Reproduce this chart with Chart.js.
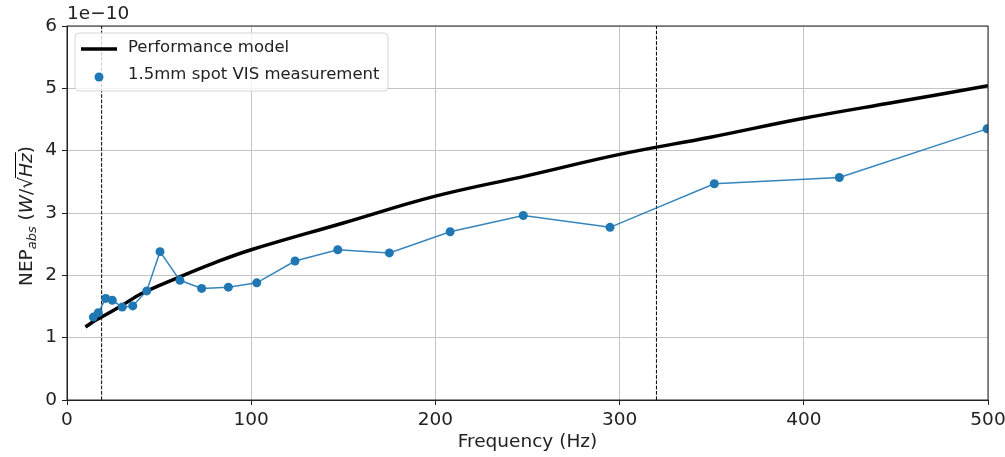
<!DOCTYPE html>
<html>
<head>
<meta charset="utf-8">
<script src="https://cdn.jsdelivr.net/npm/chart.js@4"></script>
<style>
  html, body { margin: 0; padding: 0; background: #fff; }
  #wrap { width: 1005px; height: 457px; }
</style>
</head>
<body>
<div id="wrap"><canvas id="nepChart" width="1005" height="457"></canvas></div>
<script>
// measurement (Hz, NEP in units of 1e-10 W/sqrt(Hz))
var measFreq = [14.3, 17.0, 21.0, 24.6, 30.0, 35.7, 43.3, 50.5, 61.3, 73.1, 87.6, 103, 123.8, 147, 175, 208, 247.7, 294.8, 351.4, 419.3, 499.5];
var measNep = [1.33, 1.40, 1.63, 1.60, 1.49, 1.51, 1.75, 2.38, 1.92, 1.79, 1.81, 1.88, 2.23, 2.41, 2.36, 2.70, 2.96, 2.77, 3.47, 3.57, 4.35];

// performance model curve
var modelFreq = [10, 15, 20, 30, 40, 60, 80, 100, 150, 200, 250, 300, 350, 400, 450, 500];
var modelNep = [1.17, 1.27, 1.35, 1.52, 1.70, 1.96, 2.20, 2.41, 2.84, 3.27, 3.60, 3.94, 4.22, 4.52, 4.78, 5.04];

// band limits (dashed verticals)
var bandFreq = [18.8, 320];

var FONT = "'DejaVu Sans', sans-serif";
var AX = 18.5;

function toPoints(xs, ys) {
  var pts = [];
  for (var i = 0; i < xs.length; i++) pts.push({ x: xs[i], y: ys[i] });
  return pts;
}

var datasets = [
  {
    label: "1.5mm spot VIS measurement",
    data: toPoints(measFreq, measNep),
    showLine: true,
    borderColor: "rgba(31, 119, 180, 0.9)",
    borderWidth: 1.5,
    pointRadius: 4.5,
    pointBorderWidth: 0,
    pointBackgroundColor: "#1f77b4",
    order: 0,
  },
  {
    label: "Performance model",
    data: toPoints(modelFreq, modelNep),
    showLine: true,
    borderColor: "#000",
    borderWidth: 3.5,
    pointRadius: 0,
    tension: 0.4,
    order: 1,
  },
];
for (var b = 0; b < bandFreq.length; b++) {
  datasets.push({
    label: "band" + b,
    data: [{ x: bandFreq[b], y: 0 }, { x: bandFreq[b], y: 6 }],
    showLine: true,
    borderColor: "#000",
    borderWidth: 1,
    borderDash: [3.7, 1.6],
    pointRadius: 0,
    order: 2,
  });
}

var extras = {
  id: "extras",
  afterDraw: function (chart) {
    var c = chart.ctx;
    var a = chart.chartArea;
    c.save();
    // spines
    c.strokeStyle = "#222";
    c.lineWidth = 1;
    c.strokeRect(a.left, a.top, a.right - a.left, a.bottom - a.top);

    // offset label
    c.fillStyle = "#222";
    c.font = AX + "px " + FONT;
    c.textBaseline = "middle";
    c.textAlign = "left";
    c.fillText("1e\u221210", a.left, 14);

    // legend box
    var lx = 75, ly = 33, lw = 313, lh = 58, r = 4;
    c.beginPath();
    c.moveTo(lx + r, ly);
    c.arcTo(lx + lw, ly, lx + lw, ly + lh, r);
    c.arcTo(lx + lw, ly + lh, lx, ly + lh, r);
    c.arcTo(lx, ly + lh, lx, ly, r);
    c.arcTo(lx, ly, lx + lw, ly, r);
    c.closePath();
    c.fillStyle = "rgba(255,255,255,0.8)";
    c.fill();
    c.strokeStyle = "#d6d6d6";
    c.stroke();

    c.strokeStyle = "#000";
    c.lineWidth = 3.5;
    c.beginPath();
    c.moveTo(81, 49);
    c.lineTo(117, 49);
    c.stroke();
    c.fillStyle = "#1f77b4";
    c.beginPath();
    c.arc(99, 77, 4.5, 0, Math.PI * 2);
    c.fill();

    c.fillStyle = "#222";
    c.font = "16.5px " + FONT;
    c.textBaseline = "middle";
    c.fillText("Performance model", 128, 48);
    c.fillText("1.5mm spot VIS measurement", 128, 75);

    // y axis title with subscript and radical
    c.translate(25, 216);
    c.rotate(-Math.PI / 2);
    c.textBaseline = "alphabetic";
    var big = AX + "px " + FONT, small = "italic 13px " + FONT, ital = "italic " + AX + "px " + FONT;
    var parts = [
      ["NEP", big, 0],
      ["abs", small, 4],
      [" (", big, 0],
      ["W", ital, 0],
      ["/", big, 0],
      ["\u221A", big, 0],
      ["Hz", ital, 0],
      [")", big, 0],
    ];
    var total = 0;
    for (var i = 0; i < parts.length; i++) {
      c.font = parts[i][1];
      total += c.measureText(parts[i][0]).width;
    }
    var x = -total / 2;
    var hzStart = 0, hzEnd = 0;
    for (var j = 0; j < parts.length; j++) {
      c.font = parts[j][1];
      var w = c.measureText(parts[j][0]).width;
      if (parts[j][0] === "Hz") { hzStart = x - 1; hzEnd = x + w + 1; }
      c.fillText(parts[j][0], x, 7 + parts[j][2]);
      x += w;
    }
    c.lineWidth = 1;
    c.beginPath();
    c.moveTo(hzStart, -9.5);
    c.lineTo(hzEnd, -9.5);
    c.stroke();
    c.restore();
  },
};

var ctx = document.getElementById("nepChart").getContext("2d");
var myChart = new Chart(ctx, {
  type: "scatter",
  data: { datasets: datasets },
  options: {
    responsive: false,
    animation: false,
    layout: { padding: { top: 26, right: 17, left: 0, bottom: 0 } },
    plugins: { legend: { display: false }, tooltip: { enabled: false } },
    scales: {
      x: {
        type: "linear",
        min: 0,
        max: 500,
        ticks: { stepSize: 100, color: "#222", font: { family: FONT, size: AX }, padding: 4 },
        grid: { color: "#c4c4c4", tickColor: "#222", tickLength: 5 },
        border: { color: "#222" },
        title: { display: true, text: "Frequency (Hz)", color: "#222", font: { family: FONT, size: AX }, padding: { top: 1 } },
        afterFit: function (s) { s.height = 57; s.paddingLeft = 0; s.paddingRight = 0; },
      },
      y: {
        min: 0,
        max: 6,
        ticks: { stepSize: 1, color: "#222", font: { family: FONT, size: AX }, padding: 5 },
        grid: { color: "#c4c4c4", tickColor: "#222", tickLength: 5 },
        border: { color: "#222" },
        afterFit: function (s) { s.width = 67; s.paddingTop = 0; s.paddingBottom = 0; },
      },
    },
  },
  plugins: [extras],
});
</script>
</body>
</html>
